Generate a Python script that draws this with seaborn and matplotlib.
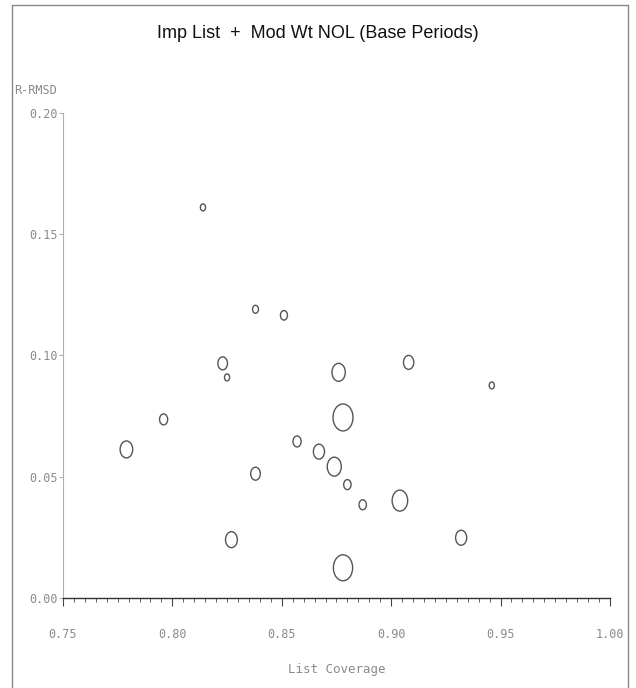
import numpy as np
import pandas as pd
import matplotlib
matplotlib.use("Agg")
import matplotlib.pyplot as plt
import seaborn as sns
from matplotlib.path import Path
from matplotlib.transforms import Affine2D
from matplotlib.lines import Line2D
from matplotlib.ticker import MultipleLocator

# List coverage, relative RMSD and base-period weight for each estimate
coverage = [0.814, 0.838, 0.851, 0.823, 0.825, 0.876, 0.908, 0.946, 0.796, 0.878, 0.779,
            0.857, 0.867, 0.874, 0.838, 0.880, 0.887, 0.904, 0.827, 0.932, 0.878]
r_rmsd = [0.161, 0.119, 0.1165, 0.0967, 0.0909, 0.093, 0.0971, 0.0876, 0.0736, 0.0744, 0.0612,
          0.0645, 0.0603, 0.0541, 0.0512, 0.0467, 0.0384, 0.0401, 0.024, 0.0248, 0.0124]
weight = [4.9, 6.4, 9.0, 16.9, 4.9, 32.4, 19.6, 4.9, 12.1, 72.9, 28.9,
          12.1, 22.5, 36.1, 16.9, 10.0, 10.0, 44.1, 25.6, 22.5, 67.6]

x_ticks = [0.75, 0.80, 0.85, 0.90, 0.95, 1.00]
x_tick_labels = ["0.75", "0.80", "0.85", "0.90", "0.95", "1.00"]
y_ticks = [0.00, 0.05, 0.10, 0.15, 0.20]
y_tick_labels = ["0.00", "0.05", "0.10", "0.15", "0.20"]

df = pd.DataFrame({"coverage": coverage, "r_rmsd": r_rmsd, "weight": weight})

sns.set_style("white")
plt.rcParams["font.family"] = ["Liberation Sans", "DejaVu Sans"]

fig = plt.figure(figsize=(6.36, 6.88), dpi=100)
ax = fig.add_axes([0.099, 0.131, 0.860, 0.705])

# slightly tall ellipse marker
ellipse = Path.unit_circle().transformed(Affine2D().scale(0.74, 1.0))

k = 5.184  # points^2 per weight unit
wmin, wmax = min(weight), max(weight)
sns.scatterplot(data=df, x="coverage", y="r_rmsd", size="weight",
                sizes=(k * wmin, k * wmax), size_norm=(wmin, wmax),
                marker=ellipse, facecolors="none", edgecolor="#555555",
                linewidth=1.0, legend=False, ax=ax)

ax.set_xlim(0.75, 1.00)
ax.set_ylim(0.0, 0.20)

mono = "DejaVu Sans Mono"
ax.set_xticks(x_ticks)
ax.set_xticklabels(x_tick_labels, family=mono, fontsize=8.5, color="#8a8a8a")
ax.set_yticks(y_ticks)
ax.set_yticklabels(y_tick_labels, family=mono, fontsize=8.5, color="#8a8a8a")
ax.xaxis.set_minor_locator(MultipleLocator(0.005))
ax.tick_params(axis="x", which="major", direction="out", length=6, width=0.8,
               color="#444444", pad=16, bottom=True)
ax.tick_params(axis="x", which="minor", direction="out", length=3, width=0.6,
               color="#444444", bottom=True)
ax.tick_params(axis="y", which="major", direction="out", length=3, width=0.6,
               color="#999999", pad=1, left=True)

for side in ["top", "right"]:
    ax.spines[side].set_visible(False)
ax.spines["bottom"].set_color("#333333")
ax.spines["bottom"].set_linewidth(1.0)
ax.spines["left"].set_color("#b0b0b0")
ax.spines["left"].set_linewidth(0.8)

ax.set_xlabel("")
ax.set_ylabel("")

fig.text(0.5, 1 - 33 / 688, "Imp List  +  Mod Wt NOL (Base Periods)",
         ha="center", va="center", fontsize=13, color="#111111")
fig.text(57 / 636, 1 - 90 / 688, "R-RMSD", ha="right", va="center",
         family=mono, fontsize=8.5, color="#8a8a8a")
fig.text(337 / 636, 1 - 670 / 688, "List Coverage", ha="center", va="center",
         family=mono, fontsize=9, color="#8a8a8a")

# page frame
frame_kw = dict(color="#888888", linewidth=1.0, transform=fig.transFigure)
fig.add_artist(Line2D([12 / 636, 12 / 636], [0, 1 - 5 / 688], **frame_kw))
fig.add_artist(Line2D([628 / 636, 628 / 636], [0, 1 - 5 / 688], **frame_kw))
fig.add_artist(Line2D([12 / 636, 628 / 636], [1 - 5 / 688, 1 - 5 / 688], **frame_kw))

fig.savefig("out.png", dpi=100)
